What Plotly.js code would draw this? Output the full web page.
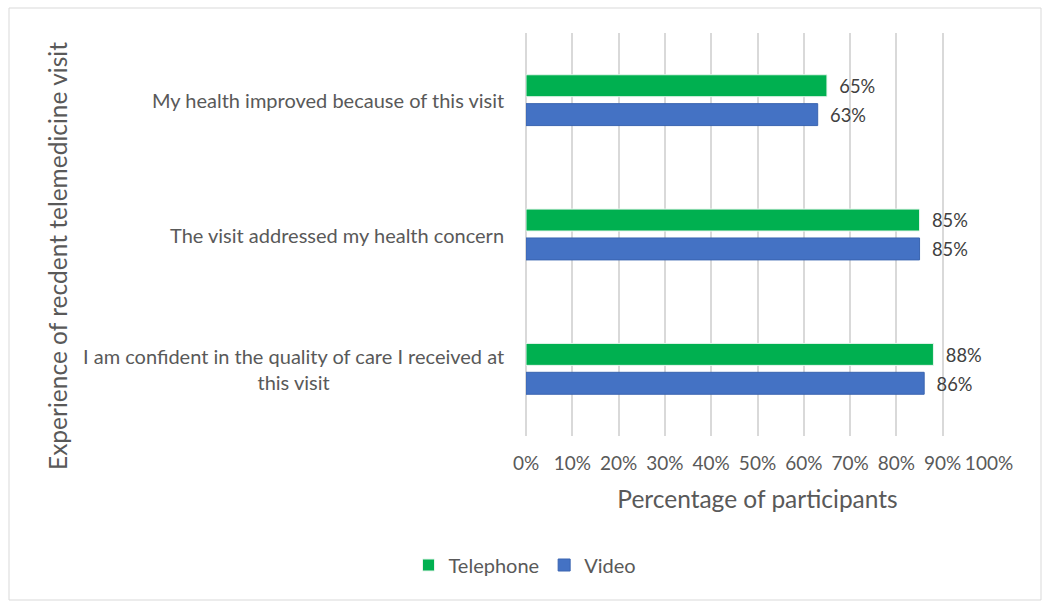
<!DOCTYPE html>
<html>
<head>
<meta charset="utf-8">
<script src="https://cdn.plot.ly/plotly-3.0.1.min.js"></script>
<style>
html,body{margin:0;padding:0;background:#fff;}
#chart{width:1050px;height:609px;}
</style>
</head>
<body>
<div id="chart"></div>
<script>
// Categories listed bottom-to-top
var categories = [
  "I am confident in the quality of care I received at this visit",
  "The visit addressed my health concern",
  "My health improved because of this visit"
];
var categoryLabels = [
  "I am confident in the quality of care I received at<br>this visit",
  "The visit addressed my health concern",
  "My health improved because of this visit"
];
var telephone = [88, 85, 65];
var video = [86, 85, 63];
var xTickVals = [0,10,20,30,40,50,60,70,80,90,100];
var xTickText = ["0%","10%","20%","30%","40%","50%","60%","70%","80%","90%","100%"];
var seriesNames = ["Telephone", "Video"];
var xTitle = "Percentage of participants";
var yTitle = "Experience of recdent telemedicine visit";

var FONT = "Lato, 'Open Sans', sans-serif";
var GREY = "#595959";

var traceVideo = {
  type: "bar", orientation: "h", name: seriesNames[1],
  y: categories, x: video,
  marker: {color: "#4472C4", line: {color: "#3A64B0", width: 1}},
  text: video.map(function(v){return "\u00a0\u00a0" + v + "%";}),
  textposition: "outside", cliponaxis: false,
  textfont: {family: FONT, size: 20, color: "#404040"},
  hoverinfo: "x+y", legendrank: 2
};
var traceTel = {
  type: "bar", orientation: "h", name: seriesNames[0],
  y: categories, x: telephone,
  marker: {color: "#00B050", line: {color: "#E6F5EC", width: 1}},
  text: telephone.map(function(v){return "\u00a0\u00a0" + v + "%";}),
  textposition: "outside", cliponaxis: false,
  textfont: {family: FONT, size: 20, color: "#404040"},
  hoverinfo: "x+y", legendrank: 1
};

var W = 463, H = 403;
var annotations = categories.map(function(c, i){
  return {
    xref: "paper", yref: "y", x: -20 / W, y: c,
    text: categoryLabels[i], showarrow: false,
    xanchor: "right", yanchor: "middle", align: "center",
    font: {family: FONT, size: 20, color: GREY}
  };
});
annotations.push({
  xref: "paper", yref: "paper", x: (57 - 526) / W, y: (436 - 256) / H,
  text: yTitle, showarrow: false, textangle: -90,
  xanchor: "center", yanchor: "middle",
  font: {family: FONT, size: 24.5, color: GREY}
});

var layout = {
  width: 1050, height: 609,
  margin: {l: 526, r: 61, t: 33, b: 173, pad: 0},
  paper_bgcolor: "#fff", plot_bgcolor: "#fff",
  barmode: "group", bargap: 0.57, bargroupgap: 0.24,
  font: {family: FONT, color: GREY},
  xaxis: {
    range: [0, 100], tickvals: xTickVals, ticktext: xTickText,
    showgrid: true, gridcolor: "#D9D9D9", gridwidth: 1.5,
    zeroline: true, zerolinecolor: "#D9D9D9", zerolinewidth: 1.5,
    showline: false, ticks: "",
    tickfont: {family: FONT, size: 19, color: GREY},
    ticklabelstandoff: 14,
    title: {text: xTitle, font: {family: FONT, size: 24.5, color: GREY}, standoff: 17},
    fixedrange: true
  },
  yaxis: {
    type: "category", categoryorder: "array", categoryarray: categories,
    showticklabels: false, showgrid: false, zeroline: false, showline: false, ticks: "",
    fixedrange: true
  },
  showlegend: true,
  legend: {
    orientation: "h", x: -1 / W, xanchor: "center", y: (436 - 565) / H, yanchor: "middle",
    font: {family: FONT, size: 20, color: GREY}, itemwidth: 30,
    traceorder: "normal"
  },
  annotations: annotations,
  shapes: [{
    type: "rect", xref: "paper", yref: "paper", layer: "below",
    x0: (9 - 526) / W, x1: (1041 - 526) / W,
    y0: (436 - 600) / H, y1: (436 - 8) / H,
    line: {color: "#D9D9D9", width: 1}, fillcolor: "rgba(0,0,0,0)"
  }]
};

Plotly.newPlot("chart", [traceVideo, traceTel], layout, {displayModeBar: false});
</script>
</body>
</html>
